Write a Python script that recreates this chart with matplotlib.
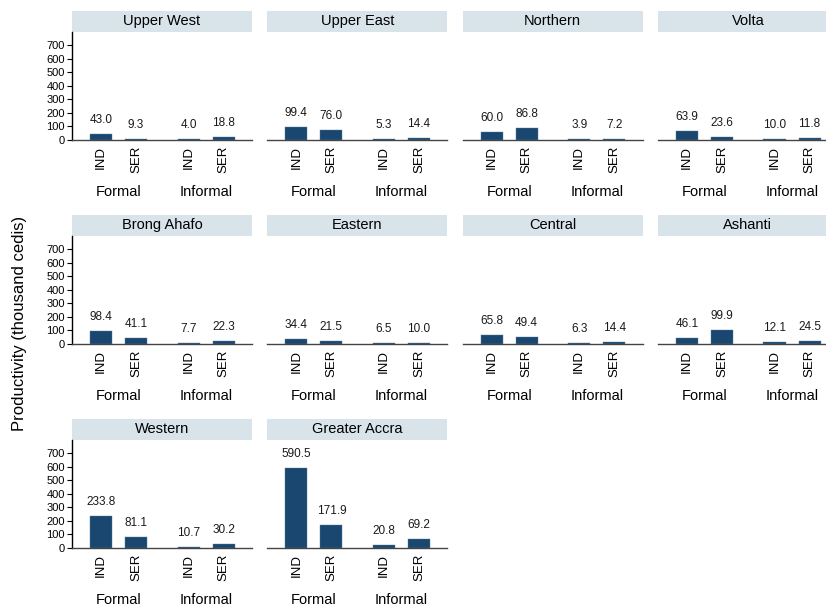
import numpy as np
import matplotlib.pyplot as plt
from matplotlib.patches import Rectangle

plt.rcParams['font.family'] = ['Liberation Sans', 'DejaVu Sans']

# data: productivity (thousand cedis) by region
regions = ["Upper West", "Upper East", "Northern", "Volta",
           "Brong Ahafo", "Eastern", "Central", "Ashanti",
           "Western", "Greater Accra"]
formal_ind = [43.0, 99.4, 60.0, 63.9, 98.4, 34.4, 65.8, 46.1, 233.8, 590.5]
formal_ser = [9.3, 76.0, 86.8, 23.6, 41.1, 21.5, 49.4, 99.9, 81.1, 171.9]
informal_ind = [4.0, 5.3, 3.9, 10.0, 7.7, 6.5, 6.3, 12.1, 10.7, 20.8]
informal_ser = [18.8, 14.4, 7.2, 11.8, 22.3, 10.0, 14.4, 24.5, 30.2, 69.2]
sectors = ["IND", "SER", "IND", "SER"]
groups = ["Formal", "Informal"]
yticks = [0, 100, 200, 300, 400, 500, 600, 700]

W, H = 826, 610
bar_col = '#1a476f'
strip_col = '#d8e4ea'
xpos = [0, 1, 2.5, 3.5]
pt = 72 / 100.0  # points per pixel at dpi 100

fig = plt.figure(figsize=(W / 100, H / 100), dpi=100)

for i, reg in enumerate(regions):
    r, c = divmod(i, 4)
    left = 72 + 195.3 * c
    top = 32 + 204 * r
    ax = fig.add_axes([left / W, 1 - (top + 108) / H, 180 / W, 108 / H])
    vals = [formal_ind[i], formal_ser[i], informal_ind[i], informal_ser[i]]
    ax.bar(xpos, vals, width=0.63, color=bar_col, edgecolor='#5a7d9c', linewidth=0.3)
    for x, v in zip(xpos, vals):
        ax.annotate("%.1f" % v, (x, v), xytext=(0, 14 * pt), textcoords='offset points',
                    ha='center', va='center', fontsize=8.5, color='#1a1a1a')
    ax.set_xlim(-0.83, 4.31)
    ax.set_ylim(0, 796)
    ax.set_xticks(xpos)
    ax.set_xticklabels(sectors, rotation=90, fontsize=9.5)
    ax.tick_params(axis='x', length=0, pad=4)
    for sp in ['top', 'right']:
        ax.spines[sp].set_visible(False)
    ax.spines['bottom'].set_color('#444444')
    ax.spines['bottom'].set_linewidth(1.0)
    if c == 0:
        ax.set_yticks(yticks)
        ax.tick_params(axis='y', length=5 * pt, width=0.8, labelsize=8, pad=1.5)
        ax.spines['left'].set_color('black')
        ax.spines['left'].set_linewidth(1.0)
    else:
        ax.set_yticks([])
        ax.spines['left'].set_visible(False)
    for gx, g in zip([0.5, 3.0], groups):
        ax.annotate(g, (gx, 0), xycoords=('data', 'axes fraction'),
                    xytext=(0, -52 * pt), textcoords='offset points',
                    ha='center', va='center', fontsize=10.5)
    # title strip
    sh = 21.5 / 108
    ax.add_patch(Rectangle((0, 1), 1, sh, transform=ax.transAxes,
                           facecolor=strip_col, edgecolor='none', clip_on=False))
    ax.text(0.5, 1 + sh / 2, reg, transform=ax.transAxes, ha='center', va='center',
            fontsize=10.5)

fig.text(20 / W, 1 - 323 / H, "Productivity (thousand cedis)", rotation=90,
         ha='center', va='center', fontsize=12)

plt.savefig("out.png", dpi=100)
